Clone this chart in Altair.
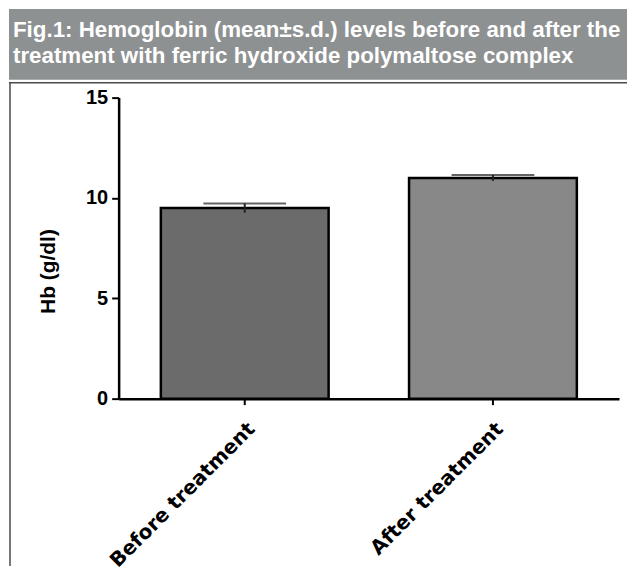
import altair as alt
import pandas as pd

groups = ["Before treatment", "After treatment"]
means = [9.5, 11.0]
sds = [0.23, 0.15]
bar_colors = ["#6b6b6b", "#888888"]
title_lines = [
    "Fig.1: Hemoglobin (mean\u00b1s.d.) levels before and after the",
    "treatment with ferric hydroxide polymaltose complex",
]
y_ticks = [0, 5, 10, 15]

df = pd.DataFrame({
    "group": groups,
    "mean": means,
    "lo": [m - s for m, s in zip(means, sds)],
    "hi": [m + s for m, s in zip(means, sds)],
})
dummy = pd.DataFrame({"k": [0]})

AX_FONT = "Liberation Sans"
X_FONT = "DejaVu Sans"
TITLE_FONT = "Liberation Sans"

xscale = alt.Scale(paddingInner=0.324, paddingOuter=0.17)

bars = alt.Chart(df).mark_bar(stroke="black", strokeWidth=2.5).encode(
    x=alt.X("group:N", sort=groups, scale=xscale, title=None,
            axis=alt.Axis(labelAngle=-45, labelFont=X_FONT, labelFontWeight="bold",
                          labelFontSize=20, labelColor="black", tickSize=6, tickWidth=2,
                          tickColor="black", domainColor="black", domainWidth=2.5,
                          labelPadding=14, labelLimit=400)),
    y=alt.Y("mean:Q", scale=alt.Scale(domain=[0, 15], nice=False, zero=True),
            title="Hb (g/dl)",
            axis=alt.Axis(values=y_ticks, format="d", labelFont=AX_FONT, labelFontWeight="bold",
                          labelFontSize=20, labelColor="black", tickSize=7, tickWidth=2,
                          tickColor="black", domainColor="black", domainWidth=2.5,
                          labelPadding=4, grid=False, titleFont=AX_FONT,
                          titleFontWeight="bold", titleFontSize=21, titleColor="black",
                          titleX=-70, titleY=174, titleBaseline="middle")),
    color=alt.Color("group:N", sort=groups,
                    scale=alt.Scale(domain=groups, range=bar_colors), legend=None),
)

rule = alt.Chart(df).mark_rule(color="#222222", strokeWidth=2).encode(
    x=alt.X("group:N", sort=groups), y="lo:Q", y2="hi:Q")
cap = alt.Chart(df).mark_tick(color="#222222", thickness=2, size=83).encode(
    x=alt.X("group:N", sort=groups), y="hi:Q")

banner = alt.Chart(dummy).mark_rect(color="#8e9192").encode(
    x=alt.value(-110), x2=alt.value(510), y=alt.value(-89), y2=alt.value(-18))
top_line = alt.Chart(dummy).mark_rule(color="#4a4a4a", strokeWidth=1.5).encode(
    x=alt.value(-110), x2=alt.value(510), y=alt.value(-15))
left_line = alt.Chart(dummy).mark_rule(color="#4a4a4a", strokeWidth=1.5).encode(
    x=alt.value(-109), y=alt.value(-15), y2=alt.value(470))

t1 = alt.Chart(pd.DataFrame({"t": [title_lines[0]]})).mark_text(
    font=TITLE_FONT, fontWeight="bold", fontSize=22.4, color="white",
    align="left", baseline="alphabetic").encode(
    text="t:N", x=alt.value(-106), y=alt.value(-61))
t2 = alt.Chart(pd.DataFrame({"t": [title_lines[1]]})).mark_text(
    font=TITLE_FONT, fontWeight="bold", fontSize=22.4, color="white",
    align="left", baseline="alphabetic").encode(
    text="t:N", x=alt.value(-106), y=alt.value(-35))

chart = alt.layer(banner, top_line, left_line, t1, t2, bars, rule, cap).properties(
    width=502, height=302, padding=0, background="white"
).configure_view(stroke=None)

chart.save("out.html", embed_options={"renderer": "svg", "actions": False})
